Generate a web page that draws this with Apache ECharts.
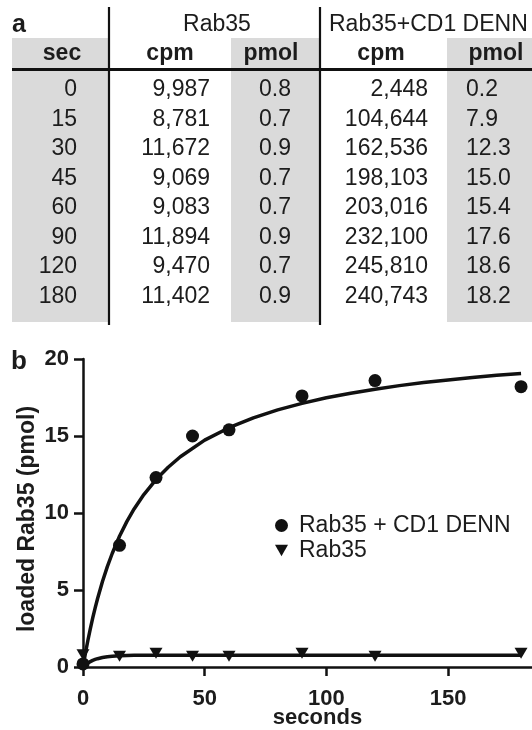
<!DOCTYPE html>
<html>
<head>
<meta charset="utf-8">
<style>
  html, body { margin: 0; padding: 0; background: #fff; }
  #chart { width: 532px; height: 730px; }
</style>
<script src="https://cdn.jsdelivr.net/npm/echarts@6/dist/echarts.min.js"></script>
</head>
<body>
<div id="chart"></div>
<script>
// ---- table values (panel a) ----
const seconds   = [0, 15, 30, 45, 60, 90, 120, 180];
const rab35Cpm  = [9987, 8781, 11672, 9069, 9083, 11894, 9470, 11402];
const rab35Pmol = [0.8, 0.7, 0.9, 0.7, 0.7, 0.9, 0.7, 0.9];
const dennCpm   = [2448, 104644, 162536, 198103, 203016, 232100, 245810, 240743];
const dennPmol  = [0.2, 7.9, 12.3, 15.0, 15.4, 17.6, 18.6, 18.2];
const groupHeaders  = ['Rab35', 'Rab35+CD1 DENN'];
const columnHeaders = ['sec', 'cpm', 'pmol', 'cpm', 'pmol'];

// ---- fitted binding curves (panel b) ----
const fitTime  = [0, 1, 2, 3, 4, 5, 6, 8, 10, 12, 15, 18, 21, 25, 30, 35, 40, 50, 60, 70, 80, 90, 100, 110, 120, 130, 140, 150, 160, 170, 180];
const dennFit  = [0, 0.90, 1.72, 2.48, 3.19, 3.84, 4.45, 5.55, 6.52, 7.37, 8.49, 9.44, 10.26, 11.20, 12.17, 12.97, 13.65, 14.73, 15.54, 16.18, 16.70, 17.12, 17.48, 17.78, 18.04, 18.27, 18.47, 18.64, 18.80, 18.94, 19.06];
const rab35Fit = [0, 0.14, 0.26, 0.35, 0.43, 0.49, 0.54, 0.62, 0.67, 0.70, 0.73, 0.75, 0.755, 0.76, 0.76, 0.76, 0.76, 0.76, 0.76, 0.76, 0.76, 0.76, 0.76, 0.76, 0.76, 0.76, 0.76, 0.76, 0.76, 0.76, 0.76];

// ---- axis ticks ----
const xTicks = [0, 50, 100, 150];
const yTicks = [0, 5, 10, 15, 20];

const seriesNames = ['Rab35 + CD1 DENN', 'Rab35'];
const panelLetters = ['a', 'b'];
const axisNames = { x: 'seconds', y: 'loaded Rab35 (pmol)' };

// ---- layout & style ----
const ink = '#111';
const textInk = '#1c1c1c';
const shade = '#dadada';
const fam = '"Liberation Sans", Arial, Helvetica, sans-serif';
const layout = {
  colEdges: [12, 109, 231, 320, 447, 532],
  shadedCols: [0, 2, 4],
  tableTop: 38, tableBottom: 322, ruleY: 69.5, vTop: 7,
  headY: 54, groupY: 25,
  rowTop: 75.25, rowBand: 236
};
const triangleDown = 'path://M0,0L12,0L6,10.5Z';

const fmtCpm = v => v.toLocaleString('en-US');
const fmtPmol = v => v.toFixed(1);
const fmtInt = v => String(v);

function textColumn(values, fmt, anchor, align) {
  return {
    type: 'custom', xAxisIndex: 1, yAxisIndex: 1, silent: true, z: 5,
    data: values.map((v, i) => [anchor, i]),
    renderItem: (params, api) => {
      const p = api.coord([api.value(0), api.value(1)]);
      return {
        type: 'text', x: p[0], y: p[1],
        style: {
          text: fmt(values[params.dataIndex]), fill: textInk,
          font: '23px ' + fam,
          align: align, verticalAlign: 'middle',
          textAlign: align, textVerticalAlign: 'middle'
        }
      };
    }
  };
}

function gText(text, x, y, size, weight, align) {
  return {
    type: 'text', x: x, y: y, z: 10, silent: true,
    style: {
      text: text, fill: textInk, font: weight + ' ' + size + 'px ' + fam,
      align: align, verticalAlign: 'middle',
      textAlign: align, textVerticalAlign: 'middle'
    }
  };
}

const E = layout.colEdges;
const graphics = [];
layout.shadedCols.forEach(c => {
  graphics.push({
    type: 'rect', z: 0, silent: true,
    shape: { x: E[c], y: layout.tableTop, width: E[c + 1] - E[c], height: layout.tableBottom - layout.tableTop },
    style: { fill: shade }
  });
});
graphics.push({ type: 'line', z: 8, silent: true,
  shape: { x1: E[0], y1: layout.ruleY, x2: E[5], y2: layout.ruleY },
  style: { stroke: ink, lineWidth: 3 } });
[E[1], E[3]].forEach(x => graphics.push({ type: 'line', z: 8, silent: true,
  shape: { x1: x, y1: layout.vTop, x2: x, y2: layout.tableBottom + 3 },
  style: { stroke: ink, lineWidth: 2.2 } }));
graphics.push(gText(panelLetters[0], 12, 25, 25, 'bold', 'left'));
graphics.push(gText(panelLetters[1], 11, 362, 26, 'bold', 'left'));
graphics.push(gText(groupHeaders[0], 217, layout.groupY, 23, 'normal', 'center'));
graphics.push(gText(groupHeaders[1], 329, layout.groupY, 23, 'normal', 'left'));
const headX = [62, 170, 271, 381, 496];
columnHeaders.forEach((h, i) => graphics.push(gText(h, headX[i], layout.headY, 23, 'bold', 'center')));

const chart = echarts.init(document.getElementById('chart'), null, { renderer: 'canvas' });

const option = {
  animation: false,
  backgroundColor: '#fff',
  graphic: graphics,
  grid: [
    { left: 83, top: 359, width: 449, height: 309, containLabel: false },
    { left: 0, top: layout.rowTop, width: 532, height: layout.rowBand, containLabel: false }
  ],
  legend: {
    orient: 'vertical', left: 270, top: 509, itemGap: 2,
    itemWidth: 13, itemHeight: 13, selectedMode: false,
    textStyle: { fontSize: 23, color: textInk, fontFamily: fam, padding: [0, 0, 0, 6] },
    data: [
      { name: seriesNames[0], icon: 'circle', itemStyle: { color: ink, opacity: 1 } },
      { name: seriesNames[1], icon: triangleDown, itemStyle: { color: ink, opacity: 1 } }
    ]
  },
  xAxis: [
    {
      type: 'value', gridIndex: 0, min: 0, max: 184.5, interval: 50,
      name: axisNames.x, nameLocation: 'middle', nameGap: 40, nameMoveOverlap: false,
      nameTextStyle: { fontSize: 22, fontWeight: 'bold', color: textInk, fontFamily: fam, padding: [0, 0, 0, 20] },
      axisLine: { show: true, onZero: false, lineStyle: { color: ink, width: 2.5 } },
      axisTick: { show: true, inside: false, length: 9, lineStyle: { color: ink, width: 2.5 }, customValues: xTicks },
      axisLabel: { fontSize: 22, fontWeight: 'bold', color: textInk, fontFamily: fam, margin: 21, customValues: xTicks },
      splitLine: { show: false }
    },
    { type: 'value', gridIndex: 1, min: 0, max: 532, show: false }
  ],
  yAxis: [
    {
      type: 'value', gridIndex: 0, min: 0, max: 20, interval: 5,
      name: axisNames.y, nameLocation: 'middle', nameGap: 44, nameRotate: 90, nameMoveOverlap: false,
      nameTextStyle: { fontSize: 23, fontWeight: 'bold', color: textInk, fontFamily: fam, padding: [0, 12, 0, 0] },
      axisLine: { show: true, onZero: false, lineStyle: { color: ink, width: 2.5 } },
      axisTick: { show: true, inside: false, length: 9, lineStyle: { color: ink, width: 2.5 } },
      axisLabel: { fontSize: 22, fontWeight: 'bold', color: textInk, fontFamily: fam, margin: 14,
        formatter: v => (yTicks.indexOf(v) >= 0 ? String(v) : '') },
      splitLine: { show: false }
    },
    { type: 'category', gridIndex: 1, inverse: true, data: seconds.map(String), show: false }
  ],
  series: [
    {
      name: 'dennFitLine', type: 'line', xAxisIndex: 0, yAxisIndex: 0,
      data: fitTime.map((t, i) => [t, dennFit[i]]),
      smooth: false, showSymbol: false, symbol: 'none', silent: true,
      lineStyle: { color: ink, width: 3.5, join: 'round' }, z: 2
    },
    {
      name: 'rab35FitLine', type: 'line', xAxisIndex: 0, yAxisIndex: 0,
      data: fitTime.map((t, i) => [t, rab35Fit[i]]),
      smooth: false, showSymbol: false, symbol: 'none', silent: true,
      lineStyle: { color: ink, width: 3.5, join: 'round' }, z: 2
    },
    {
      name: seriesNames[0], type: 'scatter', xAxisIndex: 0, yAxisIndex: 0,
      data: seconds.map((t, i) => [t, dennPmol[i]]),
      symbol: 'circle', symbolSize: 13, itemStyle: { color: ink, opacity: 1 }, z: 4
    },
    {
      name: seriesNames[1], type: 'scatter', xAxisIndex: 0, yAxisIndex: 0,
      data: seconds.map((t, i) => [t, rab35Pmol[i]]),
      symbol: triangleDown, symbolSize: [13, 11], itemStyle: { color: ink, opacity: 1 }, z: 4
    },
    textColumn(seconds, fmtInt, 77, 'right'),
    textColumn(rab35Cpm, fmtCpm, 210, 'right'),
    textColumn(rab35Pmol, fmtPmol, 259, 'left'),
    textColumn(dennCpm, fmtCpm, 428, 'right'),
    textColumn(dennPmol, fmtPmol, 466, 'left')
  ]
};

chart.setOption(option);
</script>
</body>
</html>
